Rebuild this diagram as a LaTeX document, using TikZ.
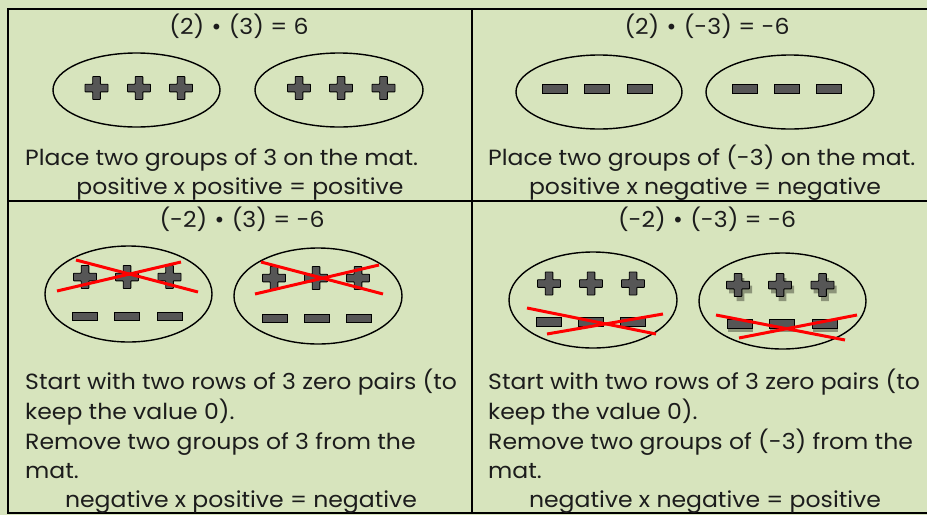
\documentclass[tikz,border=0pt]{standalone}
\usepackage{fontspec}
\setmainfont{Poppins}[FakeStretch=1.07]
\newfontfamily\dotfont{DejaVu Sans}
\newcommand{\mdot}{{\dotfont\fontsize{20}{30}\selectfont •}}
\definecolor{matgreen}{HTML}{D7E4BD}
\definecolor{tilegray}{HTML}{565656}
\definecolor{shadowgray}{HTML}{8C9479}
\definecolor{ink}{HTML}{1C1C1C}
\tikzset{
  grid/.style={line width=2.4pt, line cap=rect},
  mat/.style={draw=black, line width=1.4pt},
  tile/.style={draw=black, fill=tilegray, line width=0.9pt},
  tileshadow/.style={fill=shadowgray},
  cross/.style={draw=red, line width=3pt},
  lbl/.style={font=\fontsize{22}{30}\selectfont, text=ink, inner sep=0pt},
  plustile/.pic={
    \path[tile, rounded corners=0.6pt] (-3.8,-11.5) -- (3.8,-11.5) -- (3.8,-3.8) -- (11.5,-3.8) -- (11.5,3.8)
      -- (3.8,3.8) -- (3.8,11.5) -- (-3.8,11.5) -- (-3.8,3.8) -- (-11.5,3.8) -- (-11.5,-3.8) -- (-3.8,-3.8) -- cycle;
  },
  minustile/.pic={
    \path[tile] (-12.5,-4.3) rectangle (12.5,4.3);
  },
  plusshadow/.pic={
    \path[tileshadow] (-3.8,-11.5) -- (3.8,-11.5) -- (3.8,-3.8) -- (11.5,-3.8) -- (11.5,3.8)
      -- (3.8,3.8) -- (3.8,11.5) -- (-3.8,11.5) -- (-3.8,3.8) -- (-11.5,3.8) -- (-11.5,-3.8) -- (-3.8,-3.8) -- cycle;
  },
  minusshadow/.pic={
    \path[tileshadow] (-12.5,-4.3) rectangle (12.5,4.3);
  },
}
\begin{document}
\begin{tikzpicture}[x=1pt, y=-1pt]
  % mat background and frame
  \fill[matgreen] (0,0) rectangle (927,515);
  \useasboundingbox (0,0) rectangle (927,515);
  \draw[grid] (8,9) -- (940,9);
  \draw[grid] (8,201) -- (940,201);
  \draw[grid] (8,513) -- (940,513);
  \draw[grid] (8,9) -- (8,513);
  \draw[grid] (472,9) -- (472,513);

  % ---- (2)(3) ----
  \node[lbl, anchor=base] (t1) at (239,34) {(2) \mdot{} (3) = 6};
  \draw[mat] (136.5,90) ellipse [x radius=83.5, y radius=37];
  \draw[mat] (339,90) ellipse [x radius=84, y radius=37];
  \foreach \x in {96.5,139,181,299,341,383.5} \pic at (\x,88) {plustile};
  \node[lbl, anchor=base west] (d1) at (25,165) {Place two groups of 3 on the mat.};
  \node[lbl, anchor=base] (r1) at (240,194) {positive x positive = positive};

  % ---- (2)(-3) ----
  \node[lbl, anchor=base] (t2) at (707,34) {(2) \mdot{} (-3) = -6};
  \draw[mat] (599,92) ellipse [x radius=83, y radius=37];
  \draw[mat] (790,92) ellipse [x radius=84, y radius=37];
  \foreach \x in {555,597,640,745,787,829} \pic at (\x,89) {minustile};
  \node[lbl, anchor=base west] (d2) at (488,165) {Place two groups of (-3) on the mat.};
  \node[lbl, anchor=base] (r2) at (705,194) {positive x negative = negative};

  % ---- (-2)(3) ----
  \node[lbl, anchor=base] (t3) at (242,227) {(-2) \mdot{} (3) = -6};
  \draw[mat] (128.5,294) ellipse [x radius=83.5, y radius=48];
  \draw[mat] (318,296) ellipse [x radius=84, y radius=48];
  \foreach \x in {85,127,169.5} {
    \pic at (\x,277) {plustile};
    \pic at (\x,316.5) {minustile};
  }
  \foreach \x in {274,316,358} \pic at (\x,278) {plustile};
  \foreach \x in {275,316.5,358.5} \pic at (\x,318.5) {minustile};
  \draw[cross] (76,260) -- (198,292);
  \draw[cross] (57,291) -- (181,262);
  \draw[cross] (261,262) -- (383,294);
  \draw[cross] (255,294) -- (379,265);
  \node[lbl, anchor=base west] (d3) at (25,389) {Start with two rows of 3 zero pairs (to};
  \node[lbl, anchor=base west] (d3b) at (25,419) {keep the value 0).};
  \node[lbl, anchor=base west] (d3c) at (25,449) {Remove two groups of 3 from the};
  \node[lbl, anchor=base west] (d3d) at (25,478) {mat.};
  \node[lbl, anchor=base] (r3) at (241,507) {negative x positive = negative};

  % ---- (-2)(-3) ----
  \node[lbl, anchor=base] (t4) at (707,227) {(-2) \mdot{} (-3) = -6};
  \draw[mat] (593,300) ellipse [x radius=84, y radius=48];
  \draw[mat] (782.5,301) ellipse [x radius=83.5, y radius=48];
  \foreach \x in {549,591,633} {
    \pic at (\x,283.5) {plustile};
    \pic at (\x,322) {minustile};
  }
  \foreach \x in {738,780,822.5} {
    \pic at (\x+2.5,289.5) {plusshadow};
    \pic at (\x+2.5,328) {minusshadow};
    \pic at (\x,285) {plustile};
    \pic at (\x+2,324) {minustile};
  }
  \draw[cross] (527,308) -- (656,334);
  \draw[cross] (547,334) -- (663,314);
  \draw[cross] (716,315) -- (845,340);
  \draw[cross] (739,338) -- (857,315);
  \node[lbl, anchor=base west] (d4) at (488,389) {Start with two rows of 3 zero pairs (to};
  \node[lbl, anchor=base west] (d4b) at (488,419) {keep the value 0).};
  \node[lbl, anchor=base west] (d4c) at (488,449) {Remove two groups of (-3) from the};
  \node[lbl, anchor=base west] (d4d) at (488,478) {mat.};
  \node[lbl, anchor=base] (r4) at (705,507) {negative x negative = positive};
\end{tikzpicture}
\end{document}
